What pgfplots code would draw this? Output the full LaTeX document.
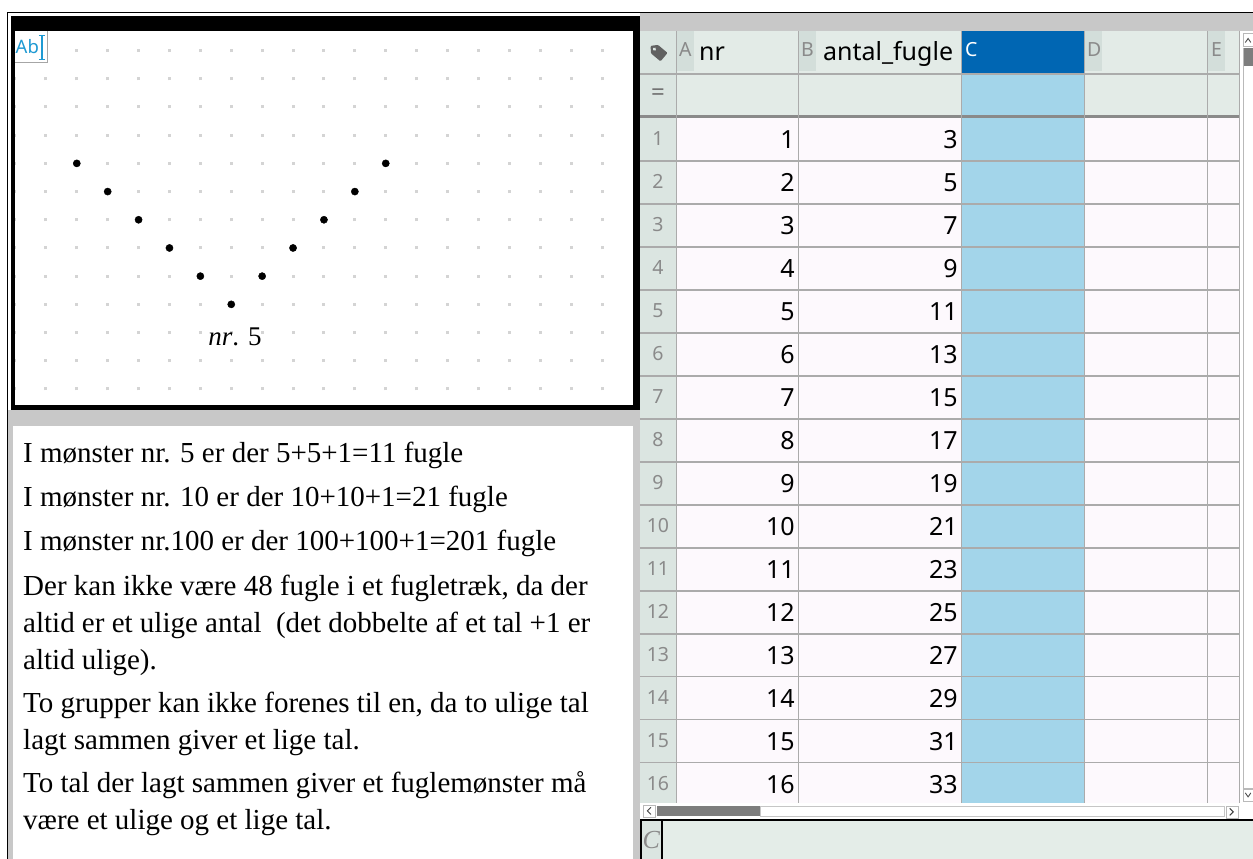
\documentclass[border=0pt]{standalone}
\usepackage{pgfplots}
\pgfplotsset{compat=1.18}
\usepackage{fontspec}
\setmainfont{Liberation Serif}
\newfontfamily\ssf{Noto Sans}
\definecolor{panelgray}{HTML}{C8C8C8}
\definecolor{hdrbg}{HTML}{E3EBE7}
\definecolor{rowbg}{HTML}{DBE5E1}
\definecolor{boxbg}{HTML}{D3DEDA}
\definecolor{cellbg}{HTML}{FDF9FD}
\definecolor{cblue}{HTML}{A3D5EA}
\definecolor{cdark}{HTML}{0066B3}
\definecolor{linegray}{HTML}{ABABAB}
\definecolor{lettergray}{HTML}{8A8A8A}
\definecolor{thumbgray}{HTML}{7D7D7D}
\definecolor{entrybg}{HTML}{E4EDE8}
\definecolor{gridgray}{HTML}{D4D4D4}
\definecolor{abblue}{HTML}{1E9AD3}
\begin{document}
\begin{tikzpicture}
\begin{scope}[x=1pt,y=-1pt]
\path[use as bounding box] (0,0) rectangle (1253,859);
\fill[white] (0,0) rectangle (1253,859);
\fill[panelgray] (8,13) rectangle (640,859);
\fill[white] (8,13) rectangle (640,410);
\fill[white] (13,426) rectangle (633,859);
\end{scope}

\begin{axis}[
  at={(15pt,-403.1pt)}, anchor=south west,
  scale only axis, width=618pt, height=366.6pt,
  xmin=0, xmax=20, ymin=-0.5, ymax=12.5,
  axis line style={draw=none},
  xtick={0,...,19}, ytick=\empty, xticklabels={},
  major tick length=0pt,
  xmajorgrids=true, ymajorgrids=false,
  major grid style={draw=gridgray, line width=3pt, dash pattern=on 3pt off 25.2pt, dash phase=15.6pt},
  clip=false,
]
\addplot[only marks, mark=*, mark size=3.6pt, black] coordinates {
  (2,8) (3,7) (4,6) (5,5) (6,4) (7,3) (8,4) (9,5) (10,6) (11,7) (12,8)
};
\node[anchor=base, font=\fontsize{27}{27}\selectfont] at (axis cs:7.12,1.525) {{\itshape nr}. 5};
\end{axis}

\begin{scope}[x=1pt,y=-1pt]
% outer lines
\fill[black] (7,12) rectangle (1253,13.3);
\fill[black] (7,12) rectangle (8.3,859);
% graph panel border
\fill[black] (11,16) rectangle (640,31);
\fill[black] (11,16) rectangle (15,410);
\fill[black] (633,16) rectangle (640,410);
\fill[black] (11,405) rectangle (640,410);
% Ab box
\fill[white] (15,31) rectangle (48,63);
\draw[gray!70, line width=1.2pt] (47.4,31) -- (47.4,62.4) -- (15,62.4);
\node[anchor=base west, inner sep=0, text=abblue, font=\ssf\bfseries\fontsize{18.5}{18.5}\selectfont] at (15.5,54) {Ab};
\draw[abblue, line width=1.8pt] (42,35.5) -- (42,59.5);
\draw[abblue, line width=1.3pt] (39,35.5) -- (45,35.5) (39,59.5) -- (45,59.5);

% text panel
\begin{scope}[every node/.style={anchor=base west, inner sep=0, font=\fontsize{29}{29}\selectfont}]
\node at (23,463) {I mønster nr. 5 er der 5+5+1=11 fugle};
\node at (23,507) {I mønster nr. 10 er der 10+10+1=21 fugle};
\node at (23,551) {I mønster nr.100 er der 100+100+1=201 fugle};
\node at (23,596) {Der kan ikke være 48 fugle i et fugletræk, da der};
\node at (23,633) {altid er et ulige antal\ \ (det dobbelte af et tal +1 er};
\node at (23,670) {altid ulige).};
\node at (23,713) {To grupper kan ikke forenes til en, da to ulige tal};
\node at (23,750) {lagt sammen giver et lige tal.};
\node at (23,793) {To tal der lagt sammen giver et fuglemønster må};
\node at (23,830) {være et ulige og et lige tal.};
\end{scope}

% spreadsheet
\fill[panelgray] (640,13.3) rectangle (1253,31);
\fill[hdrbg] (640,31) rectangle (1240,115);
\fill[cellbg] (677,118) rectangle (1240,803);
\fill[rowbg] (640,31) rectangle (677,803);
\fill[cblue] (962,74) rectangle (1085,803);
\fill[cdark] (962,31) rectangle (1085,74);
\foreach \x in {677,799,1085,1208} \fill[boxbg] (\x,31) rectangle (\x+17,71);
\fill[rowbg] (640,31) rectangle (677,74);
\fill[thumbgray!90] (640,115) rectangle (1240,118.5);
\draw[linegray, line width=1.2pt] (640,74) -- (1240,74);
\foreach \k in {1,...,15} \draw[linegray, line width=1.2pt] (640,118+43*\k) -- (1240,118+43*\k);
\foreach \x in {677,799,962,1085,1208,1240} \draw[linegray, line width=1.2pt] (\x,31) -- (\x,803);
% tag icon
\begin{scope}[shift={(658,52)}, rotate=-40]
\fill[black!62, rounded corners=1pt] (-9.5,0) -- (-4.5,-5.5) -- (8,-5.5) -- (8,5.5) -- (-4.5,5.5) -- cycle;
\fill[rowbg] (-4.5,0) circle (1.8);
\end{scope}
\node[text=black!55, font=\ssf\bfseries\fontsize{24}{24}\selectfont] at (658,95) {=};
% header letters
\begin{scope}[every node/.style={anchor=base west, inner sep=0}]
\node[text=lettergray, font=\ssf\fontsize{19.5}{19.5}\selectfont] at (679,57) {A};
\node[text=lettergray, font=\ssf\fontsize{19.5}{19.5}\selectfont] at (801,57) {B};
\node[text=white, font=\ssf\fontsize{19.5}{19.5}\selectfont] at (965,57) {C};
\node[text=lettergray, font=\ssf\fontsize{19.5}{19.5}\selectfont] at (1087,57) {D};
\node[text=lettergray, font=\ssf\fontsize{19.5}{19.5}\selectfont] at (1211,57) {E};
\node[font=\ssf\fontsize{25}{25}\selectfont] at (699,61) {nr};
\node[font=\ssf\fontsize{25}{25}\selectfont] at (823,61) {antal\_fugle};
\end{scope}
% data
\foreach \n/\v in {1/3,2/5,3/7,4/9,5/11,6/13,7/15,8/17,9/19,10/21,11/23,12/25,13/27,14/29,15/31,16/33} {
  \pgfmathsetmacro\yb{149+43*(\n-1)}
  \node[anchor=base east, inner sep=0, font=\ssf\fontsize{25}{25}\selectfont] at (795,\yb) {\n};
  \node[anchor=base east, inner sep=0, font=\ssf\fontsize{25}{25}\selectfont] at (958,\yb) {\v};
  \node[anchor=base, inner sep=0, text=lettergray, font=\ssf\fontsize{19.5}{19.5}\selectfont] at (658,\yb-3.5) {\n};
}
% vertical scrollbar
\fill[white] (1240.7,31) rectangle (1253,803);
\draw[gray!55] (1243.5,48) rectangle (1253,788);
\fill[thumbgray] (1244,48) rectangle (1253,66);
\draw[gray!55, fill=white] (1243.5,33) rectangle (1253,46);
\draw[black!70, line width=0.9pt] (1245.5,42.5) -- (1248.3,38.5) -- (1251,42.5);
\draw[gray!55, fill=white] (1243.5,789) rectangle (1253,801);
\draw[black!70, line width=0.9pt] (1245.5,793) -- (1248.3,797) -- (1251,793);
% horizontal scrollbar
\fill[white] (640,803) rectangle (1253,819);
\draw[gray!55, fill=white] (643,805) rectangle (655,817);
\draw[black!75, line width=1pt] (651,807.5) -- (647.5,811) -- (651,814.5);
\fill[thumbgray] (657,806) rectangle (760,816);
\draw[gray!45] (760,806) rectangle (1224,816);
\draw[gray!55, fill=white] (1226,806) rectangle (1238,818);
\draw[black!75, line width=1pt] (1230,808.5) -- (1233.5,812) -- (1230,815.5);
% entry line
\fill[entrybg] (640,819) rectangle (1253,859);
\fill[rowbg] (642,821) rectangle (661,859);
\fill[black] (640,818.8) rectangle (1253,821.2);
\fill[black] (640,818.8) rectangle (642,859);
\fill[black] (661,818.8) rectangle (663.2,859);
\node[text=lettergray, font=\fontsize{26}{26}\selectfont\itshape] at (651.5,840) {C};
\end{scope}
\end{tikzpicture}
\end{document}
